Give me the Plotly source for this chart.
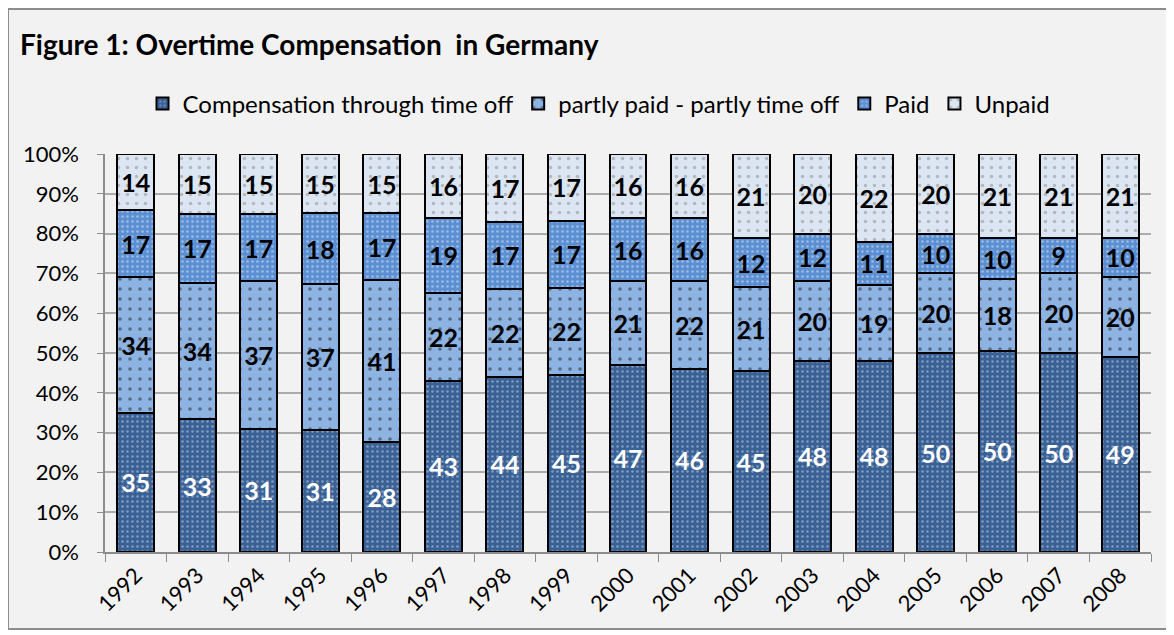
import plotly.graph_objects as go

years = [str(y) for y in range(1992, 2009)]
time_off = [35, 33, 31, 31, 28, 43, 44, 45, 47, 46, 45, 48, 48, 50, 50, 50, 49]
partly = [34, 34, 37, 37, 41, 22, 22, 22, 21, 22, 21, 20, 19, 20, 18, 20, 20]
paid = [17, 17, 17, 18, 17, 19, 17, 17, 16, 16, 12, 12, 11, 10, 10, 9, 10]
unpaid = [14, 15, 15, 15, 15, 16, 17, 17, 16, 16, 21, 20, 22, 20, 21, 21, 21]
y_ticks = list(range(0, 101, 10))
y_tick_labels = [f"{v}%" for v in y_ticks]

series = [
    ("Compensation through time off", time_off, "#3a6195", "#c9d6e8", "white", 5, 0.2),
    ("partly paid - partly time off", partly, "#8db3e2", "#222222", "black", 10, 0.1),
    ("Paid", paid, "#5b8fd1", "#dce8f8", "black", 5, 0.22),
    ("Unpaid", unpaid, "#dce6f2", "#8a8a8a", "black", 9, 0.12),
]

fig = go.Figure()
for name, vals, bg, fg, tc, size, sol in series:
    fig.add_trace(go.Bar(
        x=years, y=vals, name=name, text=vals, texttemplate="%{text}",
        textposition="inside", insidetextanchor="middle", textangle=0,
        textfont=dict(family="Lato", size=25, color=tc, weight="bold"),
        marker=dict(color=bg, line=dict(color="black", width=2),
                    pattern=dict(shape=".", bgcolor=bg, fgcolor=fg, size=size, solidity=sol)),
        hoverinfo="skip",
    ))

# page is offset by 8px body margin; positions below are figure-relative
OFF = 8
W, H = 1174 - OFF, 635 - OFF
L, R, T, B = 105 - OFF, W - (1151 - OFF), 154 - OFF, H - (552 - OFF)
pw, ph = W - L - R, H - T - B

def px(x):
    return (x - OFF - L) / pw

def py(y):
    return (H - B - (y - OFF)) / ph

fig.update_layout(
    width=W, height=H, barmode="stack", barnorm="percent", bargap=0.4,
    margin=dict(l=L, r=R, t=T, b=B, autoexpand=False),
    paper_bgcolor="white", plot_bgcolor="rgba(0,0,0,0)",
    font=dict(family="Lato", size=22, color="black"),
    title=dict(text="<b>Figure 1: Overtime Compensation  in Germany</b>",
               xref="container", yref="container", x=(20 - OFF) / W, y=1 - (45 - OFF) / H,
               xanchor="left", yanchor="middle", font=dict(size=28, family="Lato")),
    legend=dict(orientation="h", x=px(599), y=py(104), xanchor="center", yanchor="middle",
                font=dict(size=24), traceorder="normal", itemsizing="constant",
                bgcolor="rgba(0,0,0,0)"),
    uniformtext=dict(mode=False),
    shapes=[dict(type="rect", xref="paper", yref="paper", x0=px(8), x1=px(1169),
                 y0=py(629), y1=py(9), fillcolor="#f2f2f2",
                 line=dict(color="#8c8c8c", width=2), layer="below")],
)
fig.update_yaxes(range=[0, 100], tickvals=y_ticks, ticktext=y_tick_labels,
                 showgrid=True, gridcolor="#ababab", gridwidth=1.5,
                 showline=True, linecolor="#8c8c8c", linewidth=1.5,
                 ticks="outside", ticklen=6, tickcolor="#8c8c8c", tickfont=dict(size=22),
                 ticklabelstandoff=14, zeroline=False)
fig.update_xaxes(tickangle=-45, tickson="boundaries", ticks="outside", ticklen=8,
                 tickcolor="#8c8c8c", showline=True, linecolor="#8c8c8c", linewidth=1.5,
                 tickfont=dict(size=22), showgrid=False)

fig.write_html("out.html")
